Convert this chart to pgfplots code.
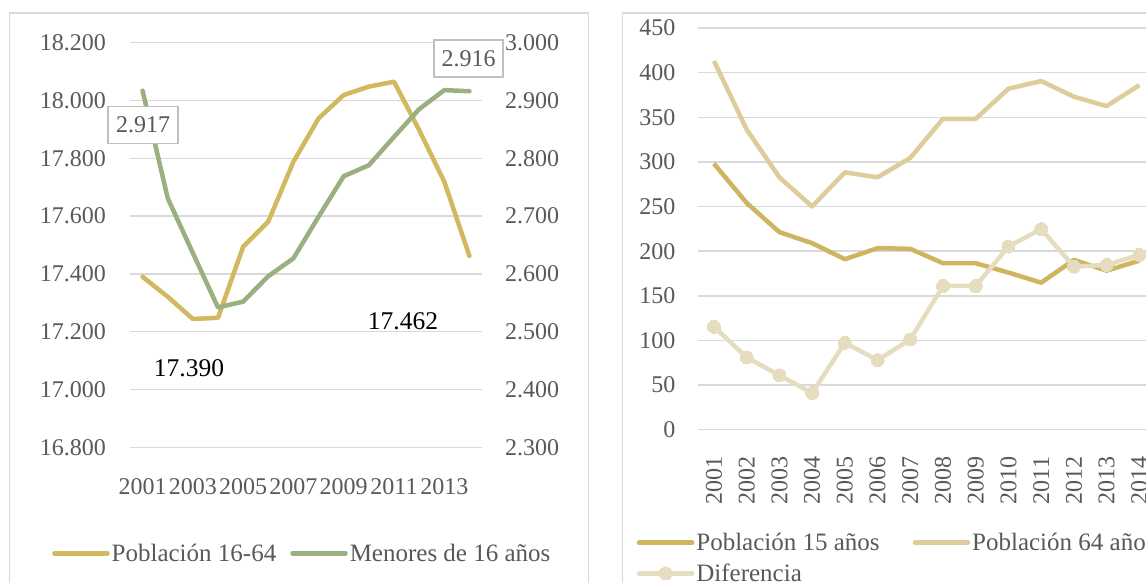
\documentclass[border=0pt]{standalone}
\usepackage{fontspec}
\setmainfont{Liberation Serif}
\usepackage{pgfplots}
\pgfplotsset{compat=1.18}
\definecolor{gtext}{HTML}{595959}
\definecolor{gridc}{HTML}{D9D9D9}
\definecolor{boxc}{HTML}{BFBFBF}
\definecolor{yel}{RGB}{210,185,95}
\definecolor{grn}{RGB}{155,176,128}
\definecolor{pa}{RGB}{207,181,95}
\definecolor{pb}{RGB}{221,205,155}
\definecolor{dif}{RGB}{230,221,192}
\newcommand\tfont{\fontsize{24pt}{28pt}\selectfont}
\newcommand\lfont{\fontsize{25pt}{29pt}\selectfont}
\newcommand\bfontx{\fontsize{25.5pt}{30pt}\selectfont}
\begin{document}
\begin{tikzpicture}[x=1pt,y=1pt]
\path[use as bounding box] (0,0) rectangle (1146,583);
\clip (0,0) rectangle (1146,583);
\fill[white] (0,0) rectangle (1146,583);
\draw[gridc, line width=1.6pt] (9.5,569.7) rectangle (588.3,-10);
\draw[gridc, line width=1.6pt] (622.3,569.7) rectangle (1170,-10);
% ---------- left panel, left axis
\begin{axis}[
 at={(130pt,135.7pt)}, anchor=south west, scale only axis,
 width=352pt, height=404.6pt,
 xmin=-0.5, xmax=13.5, ymin=16800, ymax=18200,
 scaled y ticks=false,
 axis line style={draw=none}, major tick length=0pt,
 ytick={16800,17000,17200,17400,17600,17800,18000,18200},
 yticklabels={16.800,17.000,17.200,17.400,17.600,17.800,18.000,18.200},
 xtick={0,2,4,6,8,10,12},
 xticklabels={2001,2003,2005,2007,2009,2011,2013},
 ymajorgrids, grid style={gridc, line width=1.5pt},
 tick label style={font=\tfont, text=gtext, inner sep=0pt},
 yticklabel style={anchor=east, xshift=-24pt},
 xticklabel style={anchor=north, yshift=-31pt},
 clip=false
]
\addplot[yel, line width=4.5pt, line join=round, line cap=round] coordinates {
(0,17390) (1,17321) (2,17244) (3,17248) (4,17494) (5,17581) (6,17788)
(7,17938) (8,18019) (9,18048) (10,18065) (11,17898) (12,17719) (13,17462)};
\end{axis}
% ---------- left panel, right axis
\begin{axis}[
 at={(130pt,135.7pt)}, anchor=south west, scale only axis,
 width=352pt, height=404.6pt,
 xmin=-0.5, xmax=13.5, ymin=2300, ymax=3000,
 scaled y ticks=false,
 axis line style={draw=none}, major tick length=0pt,
 axis y line*=right, axis x line=none,
 ytick={2300,2400,2500,2600,2700,2800,2900,3000},
 yticklabels={2.300,2.400,2.500,2.600,2.700,2.800,2.900,3.000},
 tick label style={font=\tfont, text=gtext, inner sep=0pt},
 yticklabel style={anchor=west, xshift=23pt},
 clip=false,
 legend columns=2,
 legend style={draw=none, fill=none, font=\lfont, text=gtext,
   at={(-0.2216,-0.262)}, anchor=west, inner sep=0pt,
   /tikz/every even column/.append style={column sep=12pt}},
 legend image code/.code={\draw[#1, line cap=round] (0pt,0pt) -- (53pt,0pt);}
]
\addlegendimage{yel, line width=4.5pt}
\addlegendentry{Población 16-64}
\addplot[grn, line width=4.5pt, line join=round, line cap=round] coordinates {
(0,2917) (1,2731) (2,2636) (3,2542) (4,2552) (5,2596) (6,2627)
(7,2699) (8,2769) (9,2788) (10,2837) (11,2885) (12,2918) (13,2916)};
\addlegendentry{Menores de 16 años}
\end{axis}
% data labels
\node[draw=boxc, line width=1.5pt, fill=white, text=gtext, font=\tfont, minimum width=70pt, minimum height=37pt, inner sep=0pt] at (143.1,458) {2.917};
\node[draw=boxc, line width=1.5pt, fill=white, text=gtext, font=\tfont, minimum width=69pt, minimum height=37pt, inner sep=0pt] at (468.7,524.5) {2.916};
\node[text=black, font=\bfontx, inner sep=0pt] at (189,215.2) {17.390};
\node[text=black, font=\bfontx, inner sep=0pt] at (403,262) {17.462};
% ---------- right panel
\begin{axis}[
 at={(697.6pt,153.3pt)}, anchor=south west, scale only axis,
 width=458.1pt, height=401.7pt,
 xmin=-0.5, xmax=13.5, ymin=0, ymax=450,
 axis line style={draw=none}, major tick length=0pt,
 ytick={0,50,...,450},
 yticklabels={0,50,100,150,200,250,300,350,400,450},
 xtick={0,...,13},
 xticklabels={2001,2002,2003,2004,2005,2006,2007,2008,2009,2010,2011,2012,2013,2014},
 ymajorgrids, grid style={gridc, line width=1.5pt},
 tick label style={font=\tfont, text=gtext, inner sep=0pt},
 yticklabel style={anchor=east, xshift=-22pt},
 xticklabel style={rotate=90, anchor=east, xshift=-27pt},
 clip=false,
 legend columns=2,
 legend style={draw=none, fill=none, font=\lfont, text=gtext,
   at={(-0.133,-0.3194)}, anchor=west, inner sep=0pt, row sep=8pt,
   /tikz/every even column/.append style={column sep=31pt}},
 legend cell align=left,
 legend image code/.code={\draw[mark repeat=2,mark phase=2,#1, line cap=round] plot coordinates {(0pt,0pt) (26.5pt,0pt) (53pt,0pt)};}
]
\addplot[pa, line width=4.5pt, line join=round] coordinates {
(0,298) (1,254) (2,221.3) (3,209) (4,191) (5,203.4) (6,202.6)
(7,186.5) (8,186.5) (9,176) (10,164.7) (11,190.2) (12,178.2) (13,189.4)};
\addlegendentry{Población 15 años}
\addplot[pb, line width=4.5pt, line join=round] coordinates {
(0,413) (1,336.3) (2,282.7) (3,250.1) (4,288.3) (5,282.7) (6,304.5)
(7,348.3) (8,348.3) (9,382) (10,390.6) (11,373) (12,362.5) (13,386)};
\addlegendentry{Población 64 años}
\addplot[dif, line width=4.5pt, line join=round, mark=*, mark size=6.5pt, mark options={fill=dif, draw=dif, line width=0pt}] coordinates {
(0,115.3) (1,80.9) (2,61) (3,41.1) (4,97.3) (5,77.9) (6,101.1)
(7,161) (8,161) (9,205.2) (10,224.7) (11,182.7) (12,184.6) (13,195.8)};
\addlegendentry{Diferencia}
\end{axis}
\end{tikzpicture}
\end{document}
